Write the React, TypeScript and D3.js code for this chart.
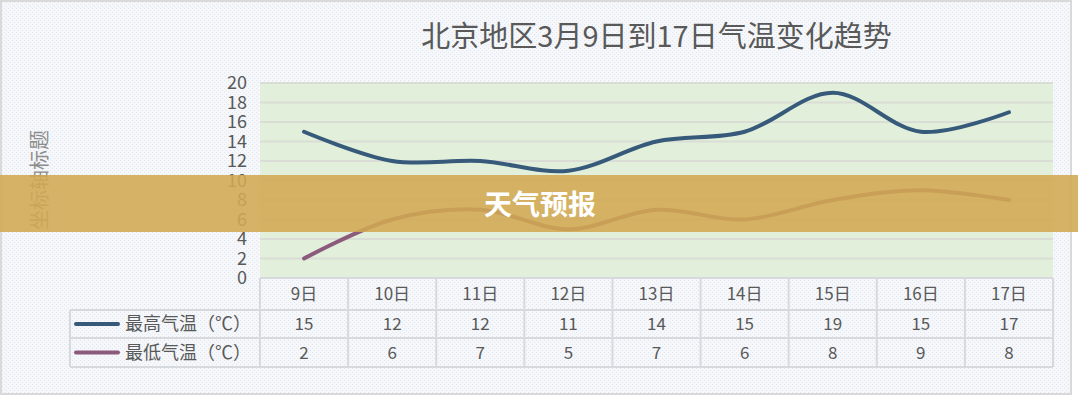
import React from 'react';
import * as d3 from 'd3';

const days = ['9日', '10日', '11日', '12日', '13日', '14日', '15日', '16日', '17日'];
const highTemps = [15, 12, 12, 11, 14, 15, 19, 15, 17];
const lowTemps = [2, 6, 7, 5, 7, 6, 8, 9, 8];
const yTicks = [0, 2, 4, 6, 8, 10, 12, 14, 16, 18, 20];

const seriesList = [
  { name: '最高气温（℃）', values: highTemps, color: '#375a7b' },
  { name: '最低气温（℃）', values: lowTemps, color: '#8c5b7b' },
];

const W = 1078;
const H = 408;
const FONT = '"Noto Sans CJK SC", "Noto Sans", sans-serif';

export default function App() {
  const plotLeft = 260;
  const plotRight = 1053;
  const plotTop = 83;
  const plotBottom = 278;

  const x = d3.scaleBand<string>().domain(days).range([plotLeft, plotRight]);
  const y = d3.scaleLinear().domain([0, 20]).range([plotBottom, plotTop]);

  const line = d3
    .line<number>()
    .x((_, i) => (x(days[i]) as number) + x.bandwidth() / 2)
    .y((d) => y(d))
    .curve(d3.curveCatmullRom.alpha(0.5));

  // table rows
  const rowTops = [plotBottom, 310, 338, 367];
  const tableLeft = 70;

  return (
    <svg width={W} height={H} style={{ position: 'absolute', left: 0, top: 0 }} fontFamily={FONT}>
      <defs>
        <pattern id="dots" width="4" height="4" patternUnits="userSpaceOnUse">
          <rect width="4" height="4" fill="#f5f7fa" />
          <rect x="0" y="0" width="1" height="1" fill="#dfe6ee" />
          <rect x="2" y="2" width="1" height="1" fill="#dfe6ee" />
        </pattern>
      </defs>
      <rect width={W} height={H} fill="#ffffff" />
      <rect x={1} y={1} width={1070} height={393} fill="url(#dots)" stroke="#d9d9d9" strokeWidth={2} />

      <text x={(plotLeft + plotRight) / 2} y={47} textAnchor="middle" fontSize={29} fill="#595959">
        北京地区3月9日到17日气温变化趋势
      </text>

      {/* plot area */}
      <rect x={plotLeft} y={plotTop} width={plotRight - plotLeft} height={plotBottom - plotTop} fill="#e2efda" />
      {yTicks.map((t) => (
        <g key={t}>
          {t > 0 && (
            <line x1={plotLeft} x2={plotRight} y1={y(t)} y2={y(t)} stroke="#d9ddd6" strokeWidth={2} />
          )}
          <text x={247} y={y(t)} dy="0.36em" textAnchor="end" fontSize={18} fill="#595959">
            {t}
          </text>
        </g>
      ))}

      <text
        transform={`translate(40,180) rotate(-90)`}
        textAnchor="middle"
        dy="0.36em"
        fontSize={20}
        fill="#8c8c8c"
      >
        坐标轴标题
      </text>

      {seriesList.map((s) => (
        <path key={s.name} d={line(s.values) ?? ''} fill="none" stroke={s.color} strokeWidth={4} strokeLinecap="round" />
      ))}

      {/* data table */}
      <g stroke="#d6dadf" strokeWidth={2}>
        <line x1={plotLeft} x2={plotRight} y1={rowTops[0]} y2={rowTops[0]} />
        <line x1={tableLeft} x2={plotRight} y1={rowTops[1]} y2={rowTops[1]} />
        <line x1={tableLeft} x2={plotRight} y1={rowTops[2]} y2={rowTops[2]} />
        <line x1={tableLeft} x2={plotRight} y1={rowTops[3]} y2={rowTops[3]} />
        <line x1={tableLeft} x2={tableLeft} y1={rowTops[1]} y2={rowTops[3]} />
        {days.map((d) => (
          <line key={d} x1={x(d) as number} x2={x(d) as number} y1={rowTops[0]} y2={rowTops[3]} />
        ))}
        <line x1={plotRight} x2={plotRight} y1={rowTops[0]} y2={rowTops[3]} />
      </g>
      {days.map((d) => (
        <text
          key={d}
          x={(x(d) as number) + x.bandwidth() / 2}
          y={(rowTops[0] + rowTops[1]) / 2}
          dy="0.36em"
          textAnchor="middle"
          fontSize={17}
          fill="#595959"
        >
          {d}
        </text>
      ))}
      {seriesList.map((s, r) => {
        const cy = (rowTops[r + 1] + rowTops[r + 2]) / 2;
        return (
          <g key={s.name}>
            <line x1={76} x2={118} y1={cy} y2={cy} stroke={s.color} strokeWidth={4} strokeLinecap="round" />
            <text x={125} y={cy} dy="0.36em" fontSize={18} fill="#595959">
              {s.name}
            </text>
            {s.values.map((v, i) => (
              <text
                key={i}
                x={(x(days[i]) as number) + x.bandwidth() / 2}
                y={cy}
                dy="0.36em"
                textAnchor="middle"
                fontSize={17}
                fill="#595959"
              >
                {v}
              </text>
            ))}
          </g>
        );
      })}

      {/* banner overlay */}
      <rect x={0} y={175} width={W} height={57} fill="#d2a852" fillOpacity={0.88} />
      <text x={540} y={205} dy="0.36em" textAnchor="middle" fontSize={28} fontWeight="bold" fill="#ffffff">
        天气预报
      </text>
    </svg>
  );
}
